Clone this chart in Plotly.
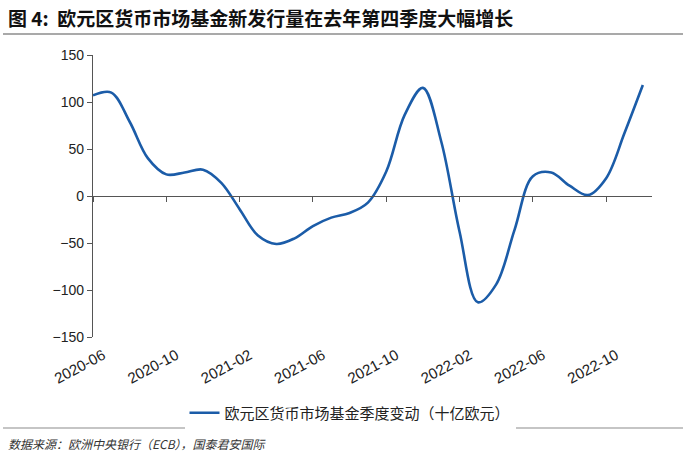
import plotly.graph_objects as go

# Monthly points, 2020-06 .. 2022-12 (EUR bn)
months = ["2020-06", "2020-07", "2020-08", "2020-09", "2020-10", "2020-11", "2020-12",
          "2021-01", "2021-02", "2021-03", "2021-04", "2021-05", "2021-06", "2021-07",
          "2021-08", "2021-09", "2021-10", "2021-11", "2021-12", "2022-01", "2022-02",
          "2022-03", "2022-04", "2022-05", "2022-06", "2022-07", "2022-08", "2022-09",
          "2022-10", "2022-11", "2022-12"]
values = [107, 110, 79, 40, 23, 25, 28, 14, -14, -42, -51, -45, -32, -23, -18, -7,
          26, 86, 115, 58, -38, -113, -94, -36, 21, 25, 11, 1, 19, 67, 118]
series_name = "欧元区货币市场基金季度变动（十亿欧元）"
title_text = "图 4:  欧元区货币市场基金新发行量在去年第四季度大幅增长"
source_text = "数据来源：欧洲中央银行（ECB），国泰君安国际"

x_idx = list(range(len(months)))
tick_idx = x_idx[::4]
tick_txt = months[::4]

W, H = 686, 458
L, R, T, B = 93, 34, 55, 121
pw, ph = W - L - R, H - T - B

def px_x(x):
    return (x - L) / pw

def px_y(y):
    return (H - B - y) / ph

line_color = "#1B5CA8"
axis_color = "#555555"
font_main = "Liberation Sans, Arial, sans-serif"
font_cjk = "Noto Sans CJK SC, sans-serif"

fig = go.Figure()
fig.add_trace(go.Scatter(
    x=x_idx, y=values, mode="lines", name=series_name,
    line=dict(color=line_color, width=2.6, shape="spline", smoothing=1.0),
    hoverinfo="skip",
))
# invisible helper trace so the zero-line tick axis renders
fig.add_trace(go.Scatter(
    x=x_idx, y=values, mode="lines", xaxis="x2", showlegend=False,
    line=dict(width=0), opacity=0, hoverinfo="skip",
))

fig.update_layout(
    width=W, height=H,
    margin=dict(l=L, r=R, t=T, b=B, autoexpand=False),
    paper_bgcolor="white", plot_bgcolor="white",
    title=dict(text=title_text, x=8 / W, xanchor="left", xref="container",
               y=1 - 19 / H, yanchor="middle", yref="container",
               font=dict(family=font_cjk, size=19, color="#111111", weight="bold")),
    xaxis=dict(range=[0, 30.5], tickvals=tick_idx, ticktext=tick_txt, tickangle=-28,
               showline=False, showgrid=False, zeroline=False, ticks="",
               ticklabelshift=10, ticklabelstandoff=6,
               tickfont=dict(family=font_main, size=15, color="#222222")),
    xaxis2=dict(overlaying="x", matches="x", anchor="free", position=0.5,
                tickvals=tick_idx, showticklabels=False, showline=True,
                linecolor=axis_color, linewidth=1.3, ticks="outside", ticklen=5,
                tickcolor=axis_color, showgrid=False, zeroline=False),
    yaxis=dict(range=[-150, 150], dtick=50, showline=True, linecolor=axis_color,
               linewidth=1.3, ticks="outside", ticklen=5, tickcolor=axis_color,
               showgrid=False, zeroline=False,
               tickfont=dict(family=font_main, size=14, color="#222222")),
    legend=dict(orientation="h", xref="container", yref="container",
                x=350 / W, xanchor="center", y=1 - 413 / H, yanchor="middle",
                font=dict(family=font_cjk, size=15, color="#222222")),
    showlegend=True,
)

# header and footer rules
fig.add_shape(type="line", xref="paper", yref="paper",
              x0=px_x(3), x1=px_x(683), y0=px_y(34), y1=px_y(34),
              line=dict(color="#8c8c8c", width=1.5))
fig.add_shape(type="line", xref="paper", yref="paper",
              x0=px_x(3), x1=px_x(683), y0=px_y(428), y1=px_y(428),
              line=dict(color="#8c8c8c", width=1.2))

fig.add_annotation(text=source_text, xref="paper", yref="paper",
                   x=px_x(6), y=px_y(443), xanchor="left", yanchor="middle",
                   showarrow=False,
                   font=dict(family=font_cjk, size=12, color="#333333", style="italic"))

fig.write_html("out.html",
               config={"displayModeBar": False},
               post_script="document.body.style.margin='0';document.body.style.overflow='hidden';")
